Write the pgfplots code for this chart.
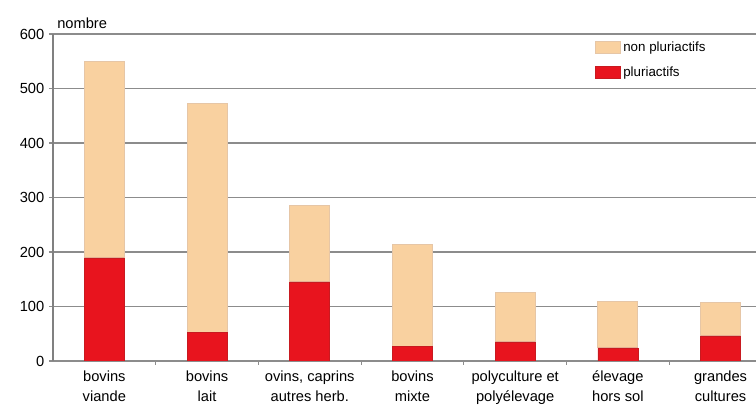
\documentclass[border=0pt]{standalone}
\usepackage{pgfplots}
\pgfplotsset{compat=1.18}
\usepackage{fontspec}
\setmainfont{Liberation Sans}
\definecolor{peach}{HTML}{F9D1A0}
\definecolor{peachedge}{HTML}{E6C6A6}
\definecolor{redbar}{HTML}{E8141E}
\definecolor{rededge}{HTML}{C81A20}
\definecolor{gridgray}{HTML}{8C8C8C}
\begin{document}
\begin{tikzpicture}
\begin{axis}[
  name=ax,
  scale only axis,
  width=527.25pt, height=245.25pt,
  ybar stacked,
  bar width=30pt,
  xmin=-0.5, xmax=6.345,
  ymin=0, ymax=600,
  ytick={0,100,...,600},
  xtick={0,...,6},
  xticklabels={{bovins\\viande},{bovins\\lait},{ovins, caprins\\autres herb.},{bovins\\mixte},{polyculture et\\polyélevage},{élevage\\hors sol},{grandes\\cultures}},
  xticklabel style={align=center, font=\fontsize{11pt}{15pt}\selectfont, yshift=-1pt},
  yticklabel style={font=\fontsize{11pt}{13pt}\selectfont},
  /pgf/number format/assume math mode=true,
  major x tick style={draw=none},
  minor xtick={0.5,1.5,...,5.5},
  minor tick length=3pt,
  major tick length=3pt,
  tick align=outside,
  tick style={gridgray, line width=0.8pt},
  axis x line*=bottom,
  axis y line*=left,
  x axis line style={gridgray, line width=0.9pt},
  y axis line style={gray, line width=1.2pt},
  ymajorgrids,
  grid style={gridgray, line width=0.9pt},
  legend style={draw=none, fill=none, at={(0.77,0.985)}, anchor=north west,
    font=\fontsize{10pt}{12pt}\selectfont, row sep=6pt,
    inner sep=0pt, /tikz/every even column/.append style={column sep=1pt}},
  legend cell align=left,
  reverse legend,
  legend image code/.code={\draw[#1] (0pt,-4.5pt) rectangle (18.75pt,4.5pt);},
]
\addplot[fill=redbar, draw=rededge, line width=0.5pt] coordinates {(0,189) (1,53) (2,145) (3,26) (4,35) (5,24) (6,46)};
\addlegendentry{pluriactifs}
\addplot[fill=peach, draw=peachedge, line width=0.8pt] coordinates {(0,361) (1,420) (2,141) (3,188) (4,90) (5,86) (6,62)};
\addlegendentry{non pluriactifs}
\end{axis}
\node[anchor=south west, font=\fontsize{11pt}{13pt}\selectfont, inner sep=0pt] at ([xshift=3pt,yshift=4pt]ax.north west) {nombre};
\pgfresetboundingbox
\useasboundingbox ([xshift=-39.75pt,yshift=-35.25pt]ax.south west) rectangle ([yshift=25.5pt]ax.north east);
\end{tikzpicture}
\end{document}
